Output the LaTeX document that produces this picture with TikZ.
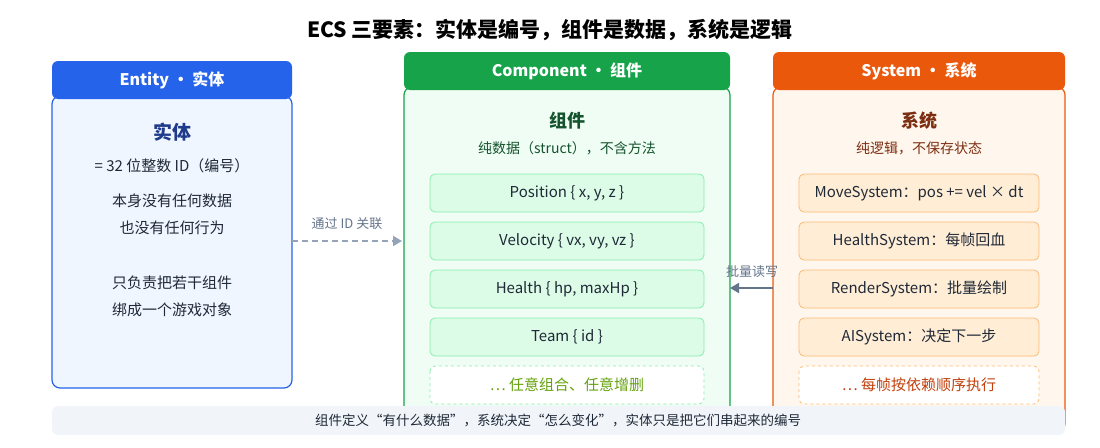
\documentclass[tikz,border=0pt]{standalone}
\usepackage{fontspec}
\setmainfont{Noto Sans CJK SC}
\usetikzlibrary{arrows.meta}
\definecolor{eb}{HTML}{2563EB}\definecolor{ebg}{HTML}{EFF6FF}\definecolor{ed}{HTML}{1E3A8A}
\definecolor{cg}{HTML}{16A34A}\definecolor{cbg}{HTML}{F0FDF4}\definecolor{cd}{HTML}{14532D}
\definecolor{ci}{HTML}{DCFCE7}\definecolor{cib}{HTML}{86EFAC}\definecolor{ct}{HTML}{65A30D}
\definecolor{so}{HTML}{EA580C}\definecolor{sbg}{HTML}{FFF7ED}\definecolor{sd}{HTML}{7C2D12}
\definecolor{si}{HTML}{FFEDD5}\definecolor{sib}{HTML}{FDBA74}\definecolor{st}{HTML}{C2410C}
\definecolor{gr}{HTML}{64748B}\definecolor{lg}{HTML}{94A3B8}\definecolor{ft}{HTML}{F1F5F9}
\definecolor{tx}{HTML}{1F2937}
\begin{document}
\begin{tikzpicture}[x=1pt,y=-1pt,
 hdr/.style={rounded corners=6pt,text=white,font=\bfseries\fontsize{16}{19}\selectfont},
 body/.style={rounded corners=8pt,line width=1.2pt},
 txt/.style={font=\fontsize{15}{18}\selectfont,text=tx},
 citem/.style={rounded corners=5pt,fill=ci,draw=cib,line width=0.8pt},
 sitem/.style={rounded corners=5pt,fill=si,draw=sib,line width=0.8pt},
 itxt/.style={font=\fontsize{15}{18}\selectfont,text=tx}]
\useasboundingbox (0,0) rectangle (1100,447);
\node[font=\bfseries\fontsize{21}{25}\selectfont,text=black] (title) at (550,30) {ECS 三要素：实体是编号，组件是数据，系统是逻辑};
% Entity
\draw[body,draw=eb,fill=ebg] (52,96) rectangle (292,388);
\fill[hdr,fill=eb] (52,61) rectangle (292,99);
\node[hdr] (eh) at (172,80) {Entity • 实体};
\node[font=\bfseries\fontsize{19}{23}\selectfont,text=ed] (et) at (172,132) {实体};
\node[txt] (e1) at (172,166) {= 32 位整数 ID（编号）};
\node[txt] (e2) at (172,201) {本身没有任何数据};
\node[txt] (e3) at (172,228) {也没有任何行为};
\node[txt] (e4) at (172,283) {只负责把若干组件};
\node[txt] (e5) at (172,310) {绑成一个游戏对象};
\coordinate (ent) at (292,241);
% Component
\draw[body,draw=cg,fill=cbg] (404,87) rectangle (730,432);
\fill[hdr,fill=cg] (404,52) rectangle (730,90);
\node[hdr] (ch) at (567,71) {Component • 组件};
\node[font=\bfseries\fontsize{18}{21}\selectfont,text=cd] (ct) at (567,121) {组件};
\node[font=\fontsize{14}{17}\selectfont,text=cd] (cs) at (567,148) {纯数据（struct），不含方法};
\foreach \n/\y/\t in {c1/174/{Position \{ x, y, z \}},c2/222/{Velocity \{ vx, vy, vz \}},c3/270/{Health \{ hp, maxHp \}},c4/318/{Team \{ id \}}}{
 \draw[citem] (430,\y) rectangle (704,\y+38);
 \node[itxt] (\n) at (567,\y+19) {\t};}
\draw[rounded corners=5pt,fill=white,draw=cib,dashed,line width=0.8pt] (430,366) rectangle (704,404);
\node[itxt,text=ct] (c5) at (567,385) {… 任意组合、任意增删};
\coordinate (compL) at (402,241);
\coordinate (compR) at (730,288);
% System
\draw[body,draw=so,fill=sbg] (773,87) rectangle (1065,432);
\fill[hdr,fill=so] (773,52) rectangle (1065,90);
\node[hdr] (sh) at (919,71) {System • 系统};
\node[font=\bfseries\fontsize{18}{21}\selectfont,text=sd] (sy) at (919,121) {系统};
\node[font=\fontsize{14}{17}\selectfont,text=sd] (ss) at (919,148) {纯逻辑，不保存状态};
\foreach \n/\y/\t in {s1/174/{MoveSystem：pos += vel × dt},s2/222/{HealthSystem：每帧回血},s3/270/{RenderSystem：批量绘制},s4/318/{AISystem：决定下一步}}{
 \draw[sitem] (799,\y) rectangle (1039,\y+38);
 \node[itxt] (\n) at (919,\y+19) {\t};}
\draw[rounded corners=5pt,fill=white,draw=sib,dashed,line width=0.8pt] (799,366) rectangle (1039,404);
\node[itxt,text=st] (s5) at (919,385) {… 每帧按依赖顺序执行};
\coordinate (sysL) at (773,288);
% arrows
\draw[lg,line width=1.8pt,dash pattern=on 6pt off 4pt,-{Triangle[length=9pt,width=10pt]}] (ent) -- (compL);
\node[font=\fontsize{13}{16}\selectfont,text=gr] (l1) at (347,224) {通过 ID 关联};
\draw[gr,line width=1.8pt,-{Triangle[length=9pt,width=10pt]}] (sysL) -- (compR);
\node[font=\fontsize{13}{16}\selectfont,text=gr] (l2) at (752,272) {批量读写};
% footer
\fill[ft,rounded corners=6pt] (52,406) rectangle (1065,435);
\node[font=\fontsize{13.5}{16}\selectfont,text=tx] (ft) at (558,420) {组件定义“有什么数据”，系统决定“怎么变化”，实体只是把它们串起来的编号};
\end{tikzpicture}
\end{document}
